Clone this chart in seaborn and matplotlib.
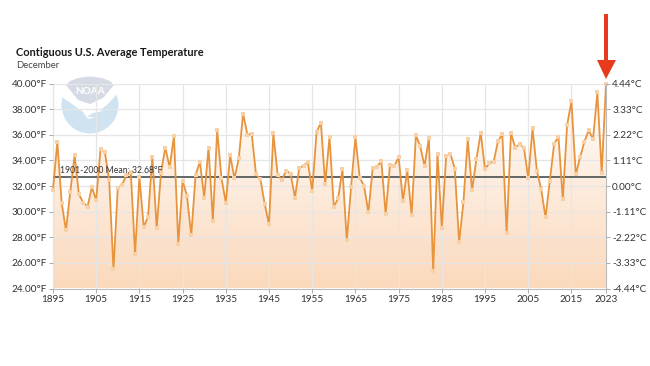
import numpy as np
import pandas as pd
import seaborn as sns
import matplotlib.pyplot as plt
from matplotlib.colors import LinearSegmentedColormap
from matplotlib.patches import Circle, Polygon

years = list(range(1895, 2024))
temps = [
    31.7, 35.45, 30.7, 28.55, 31.55, 34.4, 31.35, 30.7, 30.4, 31.9,
    30.9, 34.9, 34.65, 32.45, 25.5, 31.85, 32.1, 32.85, 33.1, 26.7,
    32.7, 28.8, 29.6, 34.3, 28.7, 33.05, 35.0, 33.45, 35.9, 27.5,
    32.4, 31.25, 28.15, 32.85, 33.9, 31.1, 35.0, 29.3, 36.35, 32.6,
    30.7, 34.4, 32.6, 34.15, 37.65, 36.0, 36.05, 32.9, 32.55, 30.6,
    29.0, 36.1, 32.85, 32.5, 33.2, 32.95, 31.1, 33.4, 33.6, 33.85,
    31.6, 36.2, 36.95, 32.15, 35.85, 30.35, 31.05, 33.3, 27.75, 31.95,
    35.8, 32.65, 32.0, 29.95, 33.4, 33.5, 33.95, 29.8, 33.65, 33.55,
    34.25, 30.85, 33.25, 29.75, 35.95, 35.1, 33.55, 35.75, 25.35, 34.5,
    28.75, 34.35, 34.5, 33.35, 27.6, 30.75, 35.65, 31.65, 34.1, 36.15,
    33.3, 33.8, 33.9, 35.5, 36.05, 28.35, 36.1, 35.0, 35.25, 35.0,
    32.6, 36.5, 33.2, 31.75, 29.55, 32.4, 35.3, 35.85, 30.95, 36.75,
    38.6, 32.9, 34.25, 35.45, 36.35, 35.65, 39.3, 33.05, 39.95,
]
xticks = [1895, 1905, 1915, 1925, 1935, 1945, 1955, 1965, 1975, 1985, 1995, 2005, 2015, 2023]
yticks_f = [24, 26, 28, 30, 32, 34, 36, 38, 40]
labels_c = ["-4.44°C", "-3.33°C", "-2.22°C", "-1.11°C", "0.00°C", "1.11°C", "2.22°C", "3.33°C", "4.44°C"]
mean_f = 32.68

sns.set_theme(style="white")
plt.rcParams["font.family"] = ["Lato", "DejaVu Sans"]
W, H = 650, 366
fig = plt.figure(figsize=(W / 100, H / 100), dpi=100, facecolor="white")

# logo goes underneath, in pixel coords
logo = fig.add_axes([0, 0, 1, 1], zorder=0)
logo.set_xlim(0, W)
logo.set_ylim(H, 0)
logo.axis("off")
logo.add_patch(Circle((90, 105), 28.5, fc="#cfe3f1", ec="none"))
logo.add_patch(Polygon([(58, 85), (120, 85), (120, 92), (118, 93), (107, 105), (100, 110), (103, 111),
                        (93, 113), (87, 117), (96, 117), (88, 119), (83, 112), (72, 104), (62, 97), (58, 97)],
                       fc="white", ec="none"))
logo.add_patch(Polygon([(66, 85), (70, 81), (78, 78), (90, 77), (102, 78), (110, 81), (114, 85),
                        (103, 98), (90, 104), (78, 100)], fc="#d6dae4", ec="none"))
logo.text(90, 91, "NOAA", color="white", fontsize=7.2, ha="center", va="center", fontweight="bold")

ax = fig.add_axes([53 / W, 1 - 288.5 / H, 553 / W, 205 / H], zorder=1)
ax.patch.set_alpha(0)
ax.set_xlim(1895, 2023)
ax.set_ylim(24, 40)

df = pd.DataFrame({"year": years, "temp": temps})

# gradient area under the line
cmap = LinearSegmentedColormap.from_list("fade", ["#fbd9bc", "#ffffff"])
grad = np.linspace(0, 1, 256).reshape(-1, 1)
img = ax.imshow(grad, extent=[1895, 2023, 24, 40], origin="lower", aspect="auto", cmap=cmap, zorder=1)
area = ax.fill_between(df["year"], 24, df["temp"], color="none")
img.set_clip_path(area.get_paths()[0], transform=ax.transData)

ax.set_xticks(xticks)
ax.set_yticks(yticks_f)
ax.grid(True, color="#e6e6e6", lw=0.9, zorder=2)
ax.set_axisbelow(False)
for line in ax.get_xgridlines() + ax.get_ygridlines():
    line.set_zorder(2)

ax.axhline(mean_f, color="#555b5b", lw=1.3, zorder=4)
sns.lineplot(data=df, x="year", y="temp", ax=ax, color="#e8943c", lw=1.3, marker="s", ms=2.7,
             markerfacecolor="#f8d0a6", markeredgecolor="#f8d0a6", markeredgewidth=0, zorder=5, clip_on=False)
ax.set_xlabel("")
ax.set_ylabel("")
ax.text(1896.6, 33.2, "1901-2000 Mean: 32.68°F", fontsize=6.2, color="#333333", va="center", zorder=6)

ax.set_xticklabels([str(y) for y in xticks])
ax.set_yticklabels([f"{v:.2f}°F" for v in yticks_f])
ax.tick_params(axis="both", length=3, width=0.7, color="#aaaaaa", labelsize=7.2, labelcolor="#333333", pad=1.5)
ax.tick_params(axis="x", bottom=True)
ax.tick_params(axis="y", left=True)
for s in ["top", "right"]:
    ax.spines[s].set_visible(False)
for s in ["left", "bottom"]:
    ax.spines[s].set_color("#bbbbbb")
    ax.spines[s].set_linewidth(0.8)

axc = ax.twinx()
axc.set_ylim(24, 40)
axc.set_yticks(yticks_f)
axc.set_yticklabels(labels_c)
axc.tick_params(axis="y", length=3, width=0.7, color="#aaaaaa", labelsize=7.2, labelcolor="#333333", pad=1.5)
axc.grid(False)
axc.patch.set_alpha(0)
for s in ["top", "left", "bottom"]:
    axc.spines[s].set_visible(False)
axc.spines["right"].set_color("#bbbbbb")
axc.spines["right"].set_linewidth(0.8)

fig.text(16 / W, 1 - 52.5 / H, "Contiguous U.S. Average Temperature", fontsize=7.9, fontweight="bold",
         color="#1a1a1a", va="center")
fig.text(16 / W, 1 - 65 / H, "December", fontsize=6.8, color="#444444", va="center")

# red arrow
over = fig.add_axes([0, 0, 1, 1], zorder=3)
over.set_xlim(0, W)
over.set_ylim(H, 0)
over.axis("off")
over.add_patch(Polygon([(604, 14), (608, 14), (608, 60), (616, 60), (606, 79), (597, 60), (604, 60)],
                       fc="#e83a1c", ec="none"))

fig.savefig("out.png", dpi=100)
